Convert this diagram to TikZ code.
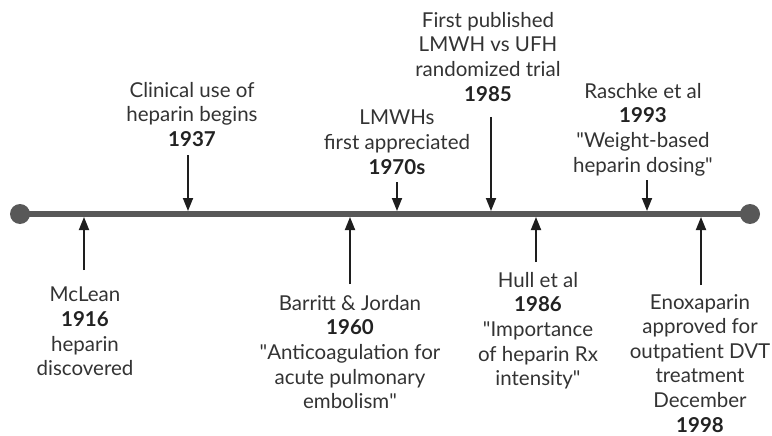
\documentclass[tikz,border=0pt]{standalone}
\usepackage{fontspec}
\setmainfont{Lato}
\usetikzlibrary{arrows.meta}
\definecolor{txt}{HTML}{333333}
\definecolor{yr}{HTML}{222222}
\definecolor{linegray}{HTML}{585858}
\definecolor{arrowc}{HTML}{1E1E1E}
\begin{document}
\begin{tikzpicture}[x=1pt,y=-1pt,
  lab/.style={align=center, inner sep=0pt, anchor=north, text=txt, font=\fontsize{20.5}{24.6}\selectfont},
  arr/.style={draw=arrowc, line width=1.8pt, -{Triangle[length=13pt,width=10pt]}}]
\useasboundingbox (0,0) rectangle (772,436);
\newcommand{\yr}[1]{\textbf{\color{yr}#1}}
\newcommand{\qt}{\XeTeXglyph\XeTeXcharglyph"22\relax}
% timeline
\coordinate (L) at (20,214);
\coordinate (R) at (750,214);
\draw[linegray, line width=6pt] (L) -- (R);
\fill[linegray] (L) circle[radius=10pt];
\fill[linegray] (R) circle[radius=10pt];
% labels above
\node[lab] (t1937) at (192,82) {Clinical use of\\heparin begins\\\yr{1937}};
\node[lab] (t1970) at (397,110) {LMWHs\\first appreciated\\\yr{1970s}};
\node[lab] (t1985) at (488,12) {First published\\LMWH vs UFH\\randomized trial\\\yr{1985}};
\node[lab] (t1993) at (643,83) {Raschke et al\\\yr{1993}\\\qt Weight-based\\heparin dosing\qt};
% labels below
\node[lab] (t1916) at (85,287) {McLean\\\yr{1916}\\heparin\\discovered};
\node[lab] (t1960) at (350,295) {Barritt \& Jordan\\\yr{1960}\\\qt Anticoagulation for\\acute pulmonary\\embolism\qt};
\node[lab] (t1986) at (538,272) {Hull et al\\\yr{1986}\\\qt Importance\\of heparin Rx\\intensity\qt};
\node[lab] (t1998) at (700,294) {Enoxaparin\\approved for\\outpatient DVT\\treatment\\December\\\yr{1998}};
% arrow ends
\coordinate (a1916) at (84,270);  \coordinate (b1916) at (84,217);
\coordinate (a1937) at (188,155); \coordinate (b1937) at (188,211);
\coordinate (a1960) at (350,284); \coordinate (b1960) at (350,217);
\coordinate (a1970) at (397,182); \coordinate (b1970) at (397,211);
\coordinate (a1985) at (491,117); \coordinate (b1985) at (491,211);
\coordinate (a1986) at (536,262); \coordinate (b1986) at (536,217);
\coordinate (a1993) at (647,180); \coordinate (b1993) at (647,211);
\coordinate (a1998) at (701,285); \coordinate (b1998) at (701,217);
\foreach \k in {1916,1937,1960,1970,1985,1986,1993,1998}
  \draw[arr] (a\k) -- (b\k);
\end{tikzpicture}
\end{document}
